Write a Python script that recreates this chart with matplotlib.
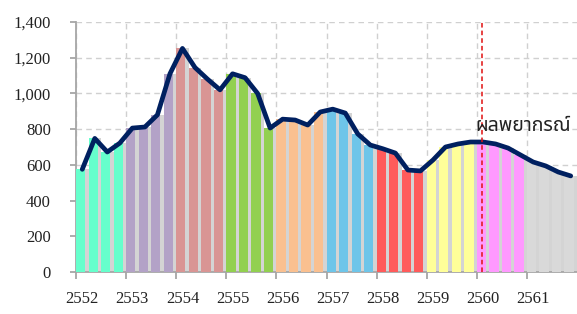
import matplotlib
matplotlib.use("Agg")
import matplotlib.pyplot as plt
import numpy as np

years = ["2552", "2553", "2554", "2555", "2556", "2557", "2558", "2559", "2560", "2561"]
year_colors = ["#66FFCC", "#B3A2C7", "#D99594", "#92D050", "#FAC090",
               "#6EC5E9", "#FF5B5B", "#FFFF99", "#FF99FF", "#D9D9D9"]
values = [575, 748, 672, 722,
          806, 812, 880, 1110,
          1252, 1145, 1080, 1020,
          1110, 1088, 1000, 806,
          856, 851, 823, 896,
          912, 890, 773, 711,
          690, 666, 571, 566,
          627, 700, 717, 728,
          728, 717, 694, 655,
          616, 594, 560, 538]
forecast_x = 32.4
forecast_label = "ผลพยากรณ์"
yticks = [0, 200, 400, 600, 800, 1000, 1200, 1400]

fig = plt.figure(figsize=(5.77, 3.14), dpi=100)
ax = fig.add_axes([76/577, 42/314, 501/577, 250/314])

n = len(values)
x = np.arange(n)
colors = [year_colors[i // 4] for i in range(n)]

# shadow bars
ax.bar(x + 0.2, values, width=0.8, align="edge", color="#D4D4D4", zorder=2)
ax.bar(x, values, width=0.74, align="edge", color=colors, zorder=3)
ax.plot(x + 0.5, values, color="#002060", lw=3.4, solid_joinstyle="round",
        solid_capstyle="round", zorder=5)

ax.axvline(forecast_x, color="#E01010", lw=1.1, ls=(0, (3, 2)), zorder=6)
ax.text(forecast_x - 0.5, 820, forecast_label, fontsize=14, color="#222222",
        family=["Noto Sans Thai", "DejaVu Sans"], va="center", ha="left", zorder=7)

ax.set_xlim(0, 40)
ax.set_ylim(0, 1400)
ax.set_xticks(np.arange(0, 40, 4))
ax.set_xticklabels([])
ax.set_xticks(np.arange(0, 40, 4) + 0.5, minor=True)
ax.set_xticklabels(years, minor=True)
ax.set_yticks(yticks)
ax.set_yticklabels([f"{v:,}" for v in yticks])

for lab in ax.get_xticklabels(minor=True) + ax.get_yticklabels():
    lab.set_family("Liberation Serif")
    lab.set_fontsize(12)
    lab.set_color("#222222")

ax.grid(True, which="major", color="#D0D0D0", ls=(0, (4, 3)), lw=1.0, zorder=0)
ax.set_axisbelow(True)
for s in ["top", "right"]:
    ax.spines[s].set_visible(False)
for s in ["left", "bottom"]:
    ax.spines[s].set_color("#A6A6A6")
    ax.spines[s].set_linewidth(1.3)
ax.tick_params(axis="x", which="major", length=5, color="#A6A6A6", width=1.3)
ax.tick_params(axis="x", which="minor", length=0, pad=14)
ax.tick_params(axis="y", length=4, color="#A6A6A6", width=1.3, pad=14)

fig.savefig("out.png", dpi=100)
